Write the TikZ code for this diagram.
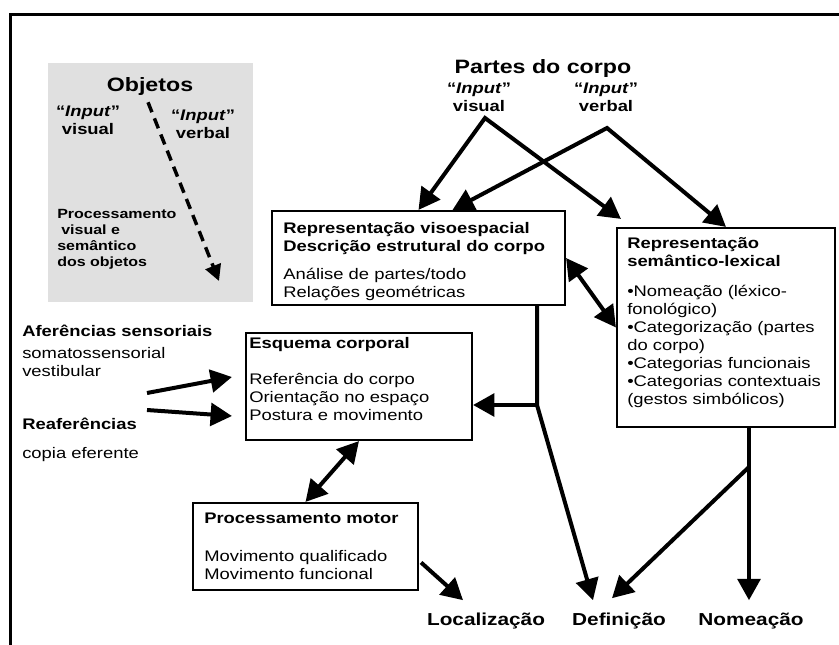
\documentclass[tikz,border=0pt]{standalone}
\usepackage{fontspec}
\setmainfont{Liberation Sans}[FakeStretch=1.2]
\usetikzlibrary{arrows.meta, calc, fit}

\tikzset{
  box/.style={draw, line width=1.6pt, inner sep=0pt},
  body/.style={inner sep=0pt, anchor=north west, align=left, font=\fontsize{11.5}{13.5}\selectfont},
  title/.style={inner sep=0pt, anchor=base, font=\fontsize{14.5}{17}\selectfont\bfseries},
  input/.style={inner sep=0pt, anchor=north, align=center, font=\fontsize{11.5}{13.5}\selectfont\bfseries},
  result/.style={inner sep=0pt, anchor=base, font=\fontsize{13}{15}\selectfont\bfseries},
  flow/.style={line width=3pt, -{Triangle[length=16pt,width=17pt]}},
  both/.style={line width=3pt, {Triangle[length=16pt,width=17pt]}-{Triangle[length=16pt,width=17pt]}},
}

\begin{document}
\begin{tikzpicture}[x=0.75pt,y=0.75pt,yscale=-1,xscale=1]
\useasboundingbox (0,0) rectangle (839,645);

%Frame
\draw[line width=2.25pt] (10.5,645) -- (10.5,14.5) -- (839,14.5);

%Objetos (grey panel)
\node[fill=black!12, fit={(48,63) (253,302)}, inner sep=0pt] (objbox) {};
\node[title] (obj) at (150,92) {Objetos};
\node[input] (objvis) at (88,106) {“\textit{Input}”\\visual};
\node[input] (objverb) at (203,110) {“\textit{Input}”\\verbal};
\node[body, font=\fontsize{10}{12}\selectfont\bfseries] (objproc) at (57,209) {Processamento\\\hspace*{0.3em}visual e\\semântico\\dos objetos};
\coordinate (objend) at (219,281);
\draw[line width=2.6pt, dash pattern=on 8pt off 5pt, -{Triangle[length=12pt,width=12pt]}] ($(obj.south)+(-2,6)$) -- (objend);

%Partes do corpo
\node[title] (partes) at (543,74) {Partes do corpo};
\node[input] (pvis) at (479,83) {“\textit{Input}”\\visual};
\node[input] (pverb) at (606,83) {“\textit{Input}”\\verbal};
\coordinate (visj) at (485,118);
\coordinate (verbj) at (607,128);

%Boxes
\node[box, fit={(272,211) (565,305)}] (viso) {};
\node[body] (visotxt) at (283,222) {\textbf{Representação visoespacial}\\\textbf{Descrição estrutural do corpo}\\[7.5pt]Análise de partes/todo\\Relações geométricas};

\node[box, fit={(617,228) (835,427)}] (sem) {};
\node[body] (semtxt) at (627,237) {\textbf{Representação}\\\textbf{semântico-lexical}\\[9.5pt]•Nomeação (léxico-\\fonológico)\\•Categorização (partes\\do corpo)\\•Categorias funcionais\\•Categorias contextuais\\(gestos simbólicos)};

\node[box, fit={(246,333) (472,440)}] (esq) {};
\node[body] (esqtxt) at (249,337) {\textbf{Esquema corporal}\\[13.5pt]Referência do corpo\\Orientação no espaço\\Postura e movimento};

\node[box, fit={(193,503) (418,590)}] (motor) {};
\node[body] (motortxt) at (204,513) {\textbf{Processamento motor}\\[15pt]Movimento qualificado\\Movimento funcional};

%Sensory inputs
\node[body] (aff) at (22,325) {\textbf{Aferências sensoriais}\\[3pt]somatossensorial\\vestibular};
\node[body] (reaf) at (22,418) {\textbf{Reaferências}\\[8pt]copia eferente};
\coordinate (affin) at (147,393);
\coordinate (reafin) at (147,410);

%Outputs
\node[result] (loc) at (486,625) {Localização};
\node[result] (def) at (619,625) {Definição};
\node[result] (nom) at (751,625) {Nomeação};

%Connectors
\draw[both] (viso.north) -- (visj) -- ($(sem.north west)+(5,-8)$);
\draw[both] ($(viso.north)+(34,0)$) -- (verbj) -- (sem.north);
\draw[both] (viso.east) -- (sem.west);
\draw[both] (esq.south) -- (motor.north);
\draw[flow] (affin) -- ($(esq.west)+(-13,-9.5)$);
\draw[flow] (reafin) -- ($(esq.west)+(-13,29.5)$);

\coordinate (vj) at (537,405);
\draw[flow] (vj |- viso.south) -- (vj) -- ($(def.north)+(-26,-12)$);
\draw[flow] (vj) -- (esq.east |- vj);

\coordinate (sj) at (749,467);
\draw[flow] (sj |- sem.south) -- (sj) -- ($(sj |- nom.north)+(0,-12)$);
\draw[flow] (sj) -- ($(def.north)+(-7,-14)$);

\draw[flow] ($(motor.east)+(2,16)$) -- ($(loc.north)+(-23,-12)$);

\end{tikzpicture}
\end{document}
